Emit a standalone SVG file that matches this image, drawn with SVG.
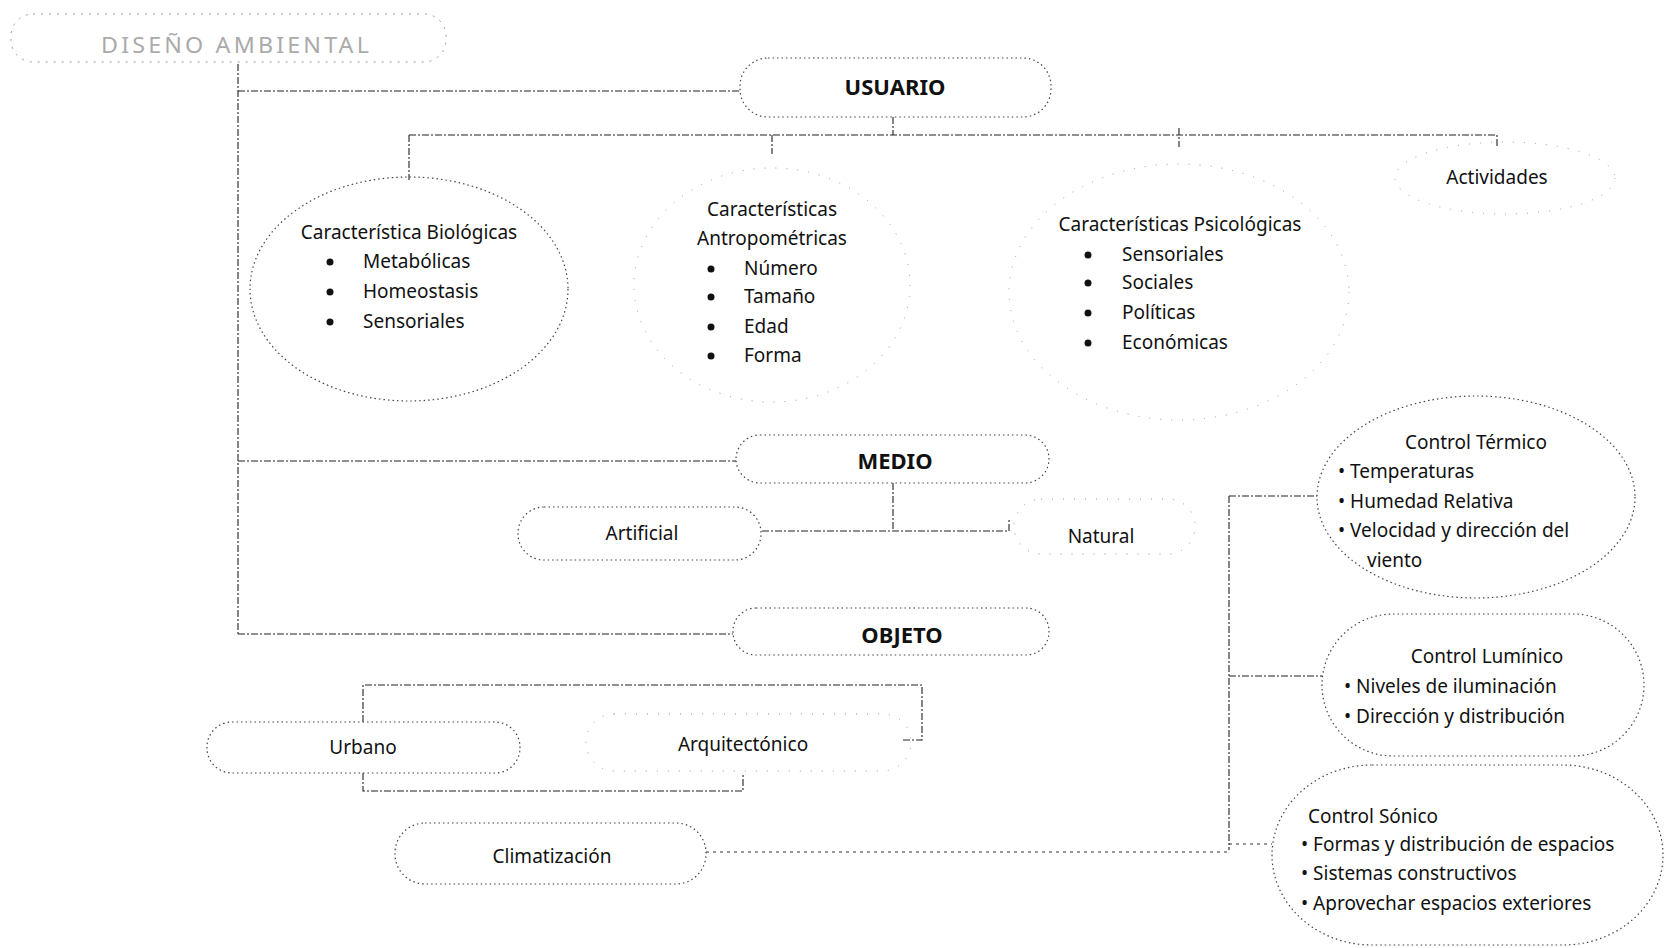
<svg xmlns="http://www.w3.org/2000/svg" width="1665" height="948" viewBox="0 0 1665 948">
<style>
text{font-family:"Noto Sans","DejaVu Sans",sans-serif;fill:#111;font-size:19px}
.c{text-anchor:middle}
.b{font-weight:bold;font-size:22px}
.dot{fill:#111}
.box{fill:none;stroke:#444;stroke-width:1.2;stroke-dasharray:1.5 3}
.faint{fill:none;stroke:#999;stroke-width:1;stroke-dasharray:1 10}
.ln{fill:none;stroke:#222;stroke-width:1.1;stroke-dasharray:7 2 2 2}
.dl{fill:none;stroke:#333;stroke-width:1;stroke-dasharray:3 4}
.title{font-size:22px;fill:#aaa;letter-spacing:3px}
</style>
<rect width="1665" height="948" fill="#fff"/>
<g id="connectors">
<path class="ln" d="M238,64 V634"/>
<path class="ln" d="M238,91 H740"/>
<path class="ln" d="M238,461 H736"/>
<path class="ln" d="M238,634 H733"/>
<path class="ln" d="M893,117 V135"/>
<path class="ln" d="M409,135 H1497 V147"/>
<path class="ln" d="M409,135 V180"/>
<path class="ln" d="M772,135 V154"/>
<path class="ln" d="M1179,128 V147"/>
<path class="ln" d="M893,483 V531"/>
<path class="ln" d="M762,531 H1009 V520"/>
<path class="ln" d="M363,722 V685 H922 V740 H903"/>
<path class="ln" d="M363,773 V791 H743 V773"/>
<path class="dl" d="M706,852 H1229"/>
<path class="ln" d="M1229,496 V850"/>
<path class="ln" d="M1229,496 H1317"/>
<path class="ln" d="M1229,676 H1322"/>
<path class="dl" d="M1229,844 H1272"/>
</g>
<g id="titulo">
<rect class="faint" x="11" y="14" width="435" height="48" rx="22" style="stroke:#999;stroke-dasharray:2 6"/>
<text class="title" x="101" y="53" textLength="271" lengthAdjust="spacingAndGlyphs">DISEÑO AMBIENTAL</text>
</g>
<g id="usuario">
<rect class="box" x="740" y="58" width="311" height="59" rx="28"/>
<text class="b c" x="895" y="95">USUARIO</text>
</g>
<g id="biologicas">
<ellipse class="box" cx="409" cy="289" rx="159" ry="112"/>
<text class="c" x="409" y="239">Característica Biológicas</text>
<circle class="dot" cx="330" cy="262" r="3.5"/><text x="363" y="268">Metabólicas</text>
<circle class="dot" cx="330" cy="292" r="3.5"/><text x="363" y="298">Homeostasis</text>
<circle class="dot" cx="330" cy="322" r="3.5"/><text x="363" y="328">Sensoriales</text>
</g>
<g id="antropometricas">
<ellipse class="faint" cx="772" cy="285" rx="138" ry="117"/>
<text class="c" x="772" y="216">Características</text>
<text class="c" x="772" y="245">Antropométricas</text>
<circle class="dot" cx="711" cy="269" r="3.5"/><text x="744" y="275">Número</text>
<circle class="dot" cx="711" cy="297" r="3.5"/><text x="744" y="303">Tamaño</text>
<circle class="dot" cx="711" cy="327" r="3.5"/><text x="744" y="333">Edad</text>
<circle class="dot" cx="711" cy="356" r="3.5"/><text x="744" y="362">Forma</text>
</g>
<g id="psicologicas">
<ellipse class="faint" cx="1179" cy="292" rx="170" ry="128"/>
<text class="c" x="1180" y="231">Características Psicológicas</text>
<circle class="dot" cx="1088" cy="255" r="3.5"/><text x="1122" y="261">Sensoriales</text>
<circle class="dot" cx="1088" cy="283" r="3.5"/><text x="1122" y="289">Sociales</text>
<circle class="dot" cx="1088" cy="313" r="3.5"/><text x="1122" y="319">Políticas</text>
<circle class="dot" cx="1088" cy="343" r="3.5"/><text x="1122" y="349">Económicas</text>
</g>
<g id="actividades">
<ellipse class="faint" cx="1505" cy="178" rx="110" ry="36"/>
<text class="c" x="1497" y="184">Actividades</text>
</g>
<g id="medio">
<rect class="box" x="736" y="435" width="313" height="48" rx="24"/>
<text class="b c" x="895" y="469">MEDIO</text>
</g>
<g id="artificial">
<rect class="box" x="518" y="507" width="243" height="53" rx="26"/>
<text class="c" x="642" y="540">Artificial</text>
</g>
<g id="natural">
<rect class="faint" x="1014" y="499" width="181" height="55" rx="27"/>
<text class="c" x="1101" y="543">Natural</text>
</g>
<g id="objeto">
<rect class="box" x="733" y="608" width="316" height="47" rx="23"/>
<text class="b c" x="902" y="643">OBJETO</text>
</g>
<g id="urbano">
<rect class="box" x="207" y="722" width="313" height="51" rx="25"/>
<text class="c" x="363" y="754">Urbano</text>
</g>
<g id="arquitectonico">
<rect class="faint" x="586" y="714" width="325" height="57" rx="28"/>
<text class="c" x="743" y="751">Arquitectónico</text>
</g>
<g id="climatizacion">
<rect class="box" x="395" y="823" width="311" height="61" rx="30"/>
<text class="c" x="552" y="863">Climatización</text>
</g>
<g id="termico">
<ellipse class="box" cx="1476" cy="497" rx="159" ry="101"/>
<text class="c" x="1476" y="449">Control Térmico</text>
<text x="1338" y="478">• Temperaturas</text>
<text x="1338" y="508">• Humedad Relativa</text>
<text x="1338" y="537">• Velocidad y dirección del</text>
<text x="1367" y="567">viento</text>
</g>
<g id="luminico">
<rect class="box" x="1322" y="614" width="322" height="142" rx="71"/>
<text class="c" x="1487" y="663">Control Lumínico</text>
<text x="1344" y="693">• Niveles de iluminación</text>
<text x="1344" y="723">• Dirección y distribución</text>
</g>
<g id="sonico">
<rect class="box" x="1272" y="765" width="391" height="180" rx="100" ry="90"/>
<text x="1308" y="823">Control Sónico</text>
<text x="1301" y="851">• Formas y distribución de espacios</text>
<text x="1301" y="880">• Sistemas constructivos</text>
<text x="1301" y="910">• Aprovechar espacios  exteriores</text>
</g>
</svg>
